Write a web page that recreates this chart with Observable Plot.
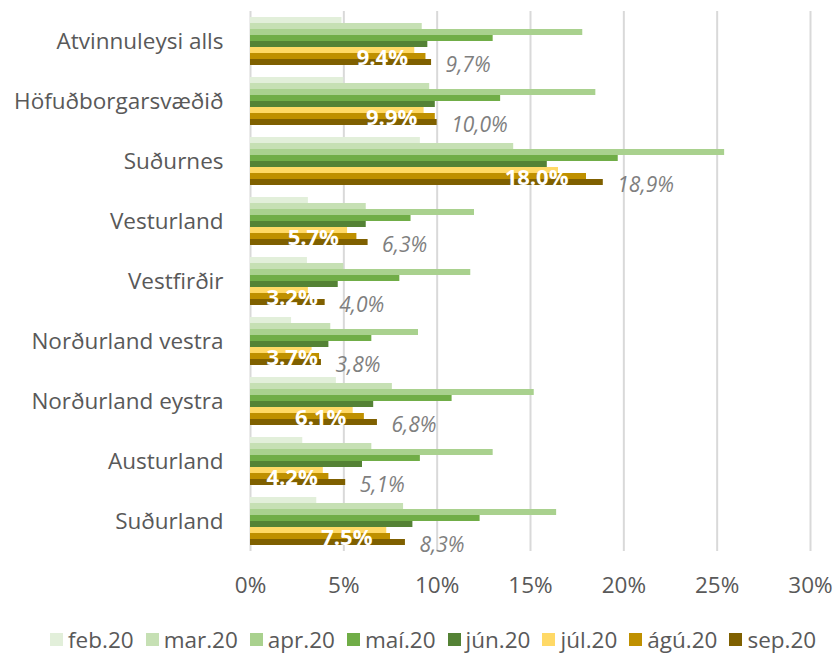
<!DOCTYPE html>
<html>
<head>
<meta charset="utf-8">
<script src="https://cdn.jsdelivr.net/npm/d3@7"></script>
<script src="https://cdn.jsdelivr.net/npm/@observablehq/plot@0.6"></script>
<style>
  body { margin: 0; background: #fff; font-family: "Open Sans", sans-serif; }
  #chart { width: 836px; }
  .legend { display: flex; align-items: center; padding-left: 50px; margin-top: 24px; font-size: 22.5px; color: #595959; }
  .legend .item { display: flex; align-items: center; margin-right: 12px; }
  .legend .sw { width: 13px; height: 13px; margin-right: 5px; }
</style>
</head>
<body>
<div id="chart"></div>
<script>
const categories = ["Atvinnuleysi alls", "Höfuðborgarsvæðið", "Suðurnes", "Vesturland", "Vestfirðir", "Norðurland vestra", "Norðurland eystra", "Austurland", "Suðurland"];
const series = ["feb.20", "mar.20", "apr.20", "maí.20", "jún.20", "júl.20", "ágú.20", "sep.20"];
const colors = ["#E2EFDA", "#C6E0B4", "#A9D18E", "#70AD47", "#548235", "#FFD966", "#BF9000", "#7F6000"];

const feb = [4.9, 5.0, 9.1, 3.1, 3.05, 2.2, 4.6, 2.8, 3.55];
const mar = [9.2, 9.6, 14.1, 6.2, 5.0, 4.3, 7.6, 6.5, 8.2];
const apr = [17.8, 18.5, 25.4, 12.0, 11.8, 9.0, 15.2, 13.0, 16.4];
const mai = [13.0, 13.4, 19.7, 8.6, 8.0, 6.5, 10.8, 9.1, 12.3];
const jun = [9.5, 9.9, 15.9, 6.2, 4.7, 4.2, 6.6, 6.0, 8.7];
const jul = [8.8, 9.3, 16.5, 5.2, 3.1, 3.3, 5.5, 3.9, 7.3];
const agu = [9.4, 9.9, 18.0, 5.7, 3.2, 3.7, 6.1, 4.2, 7.5];
const sep = [9.7, 10.0, 18.9, 6.3, 4.0, 3.8, 6.8, 5.1, 8.3];

const xTicks = [0, 5, 10, 15, 20, 25, 30];

const seriesValues = [feb, mar, apr, mai, jun, jul, agu, sep];
const rows = [];
categories.forEach((cat, i) => {
  series.forEach((s, j) => rows.push({cat, series: s, value: seriesValues[j][i]}));
});

const font = '"Open Sans", sans-serif';

const chart = Plot.plot({
  width: 836,
  height: 600,
  marginLeft: 250,
  marginRight: 26,
  marginTop: 10,
  marginBottom: 49,
  style: { fontFamily: font, fontSize: "22.5px", color: "#595959", background: "white" },
  facet: { data: rows, y: "cat" },
  fy: { domain: categories, paddingInner: 0, paddingOuter: 0, axis: "left", tickSize: 0, tickPadding: 27, label: null },
  y: { domain: series, axis: null, paddingInner: 0, paddingOuter: 0.95 },
  x: { domain: [0, 30], ticks: xTicks, tickFormat: d => d + "%", tickSize: 0, tickPadding: 26, label: null },
  color: { domain: series, range: colors },
  marks: [
    Plot.ruleX(xTicks, { stroke: "#D9D9D9", strokeWidth: 2 }),
    Plot.barX(rows, { x: "value", y: "series", fill: "series" }),
    Plot.text(rows, {
      filter: d => d.series === "ágú.20" && d.value >= 4.6,
      x: "value", y: "series", text: d => d.value.toFixed(1) + "%",
      textAnchor: "end", dx: -18, dy: 1, fill: "white", fontWeight: "bold", fontSize: 22
    }),
    Plot.text(rows, {
      filter: d => d.series === "ágú.20" && d.value < 4.6,
      frameAnchor: "left", y: "series", text: d => d.value.toFixed(1) + "%",
      textAnchor: "start", dx: 16, dy: 1, fill: "white", fontWeight: "bold", fontSize: 22
    }),
    Plot.text(rows, {
      filter: d => d.series === "sep.20",
      x: "value", y: "series", text: d => d.value.toFixed(1).replace(".", ",") + "%",
      textAnchor: "start", dx: 14, dy: 3, fill: "#7F7F7F", fontStyle: "italic", fontSize: 21
    })
  ]
});
document.getElementById("chart").appendChild(chart);

const legend = document.createElement("div");
legend.className = "legend";
series.forEach((s, j) => {
  const item = document.createElement("div");
  item.className = "item";
  const sw = document.createElement("div");
  sw.className = "sw";
  sw.style.background = colors[j];
  const t = document.createElement("span");
  t.textContent = s;
  item.appendChild(sw);
  item.appendChild(t);
  legend.appendChild(item);
});
document.getElementById("chart").appendChild(legend);
</script>
</body>
</html>
